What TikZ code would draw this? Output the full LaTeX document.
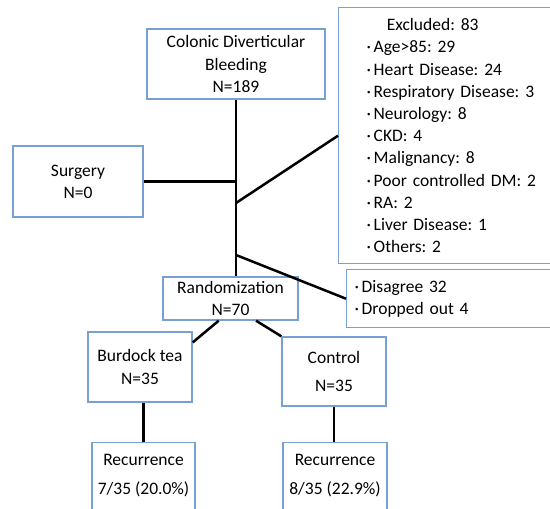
\documentclass[tikz,border=0pt]{standalone}
\usepackage{fontspec}
\setmainfont{Carlito}
\usepackage{tikz}
\frenchspacing
\definecolor{boxblue}{RGB}{120,160,210}
\tikzstyle{basic} = [rectangle, draw=boxblue, line width=1.4pt, fill=white, align=center, inner sep=0pt]
\tikzstyle{listbox} = [rectangle, draw=boxblue, line width=1.4pt, fill=white, align=left, anchor=north west, text width=200pt]
\tikzstyle{link} = [draw=black, line width=2.5pt]
\newcommand{\bul}{\makebox[7pt][l]{\textperiodcentered}}

\begin{document}
\begin{tikzpicture}[x=1pt, y=-1pt, font=\fontsize{17.5}{22.2}\selectfont]
    \useasboundingbox (0,0) rectangle (550,509);
    \clip (0,0) rectangle (550,509);

    \node (colonic_bleed) [basic, minimum width=178pt, minimum height=70pt] at (236,64) {Colonic Diverticular\\Bleeding\\N=189};
    \node (surgery) [basic, minimum width=130pt, minimum height=71pt] at (78,181.5) {Surgery\\N=0};
    \node (excluded) [listbox, inner xsep=28pt, minimum height=256pt] at (338,7) {\makebox[132pt][c]{Excluded: 83}\\
      \bul Age>85: 29\\ \bul Heart Disease: 24\\ \bul Respiratory Disease: 3\\ \bul Neurology: 8\\ \bul CKD: 4\\
      \bul Malignancy: 8\\ \bul Poor controlled DM: 2\\ \bul RA: 2\\ \bul Liver Disease: 1\\ \bul Others: 2};
    \node (disagree) [listbox, inner xsep=8pt, minimum height=58pt] at (346,269) {\bul Disagree 32\\ \bul Dropped out 4};
    \node (rand) [basic, minimum width=135pt, minimum height=43pt] at (230.5,298.5) {Randomization\\N=70};
    \node (burdock) [basic, minimum width=104pt, minimum height=70pt] at (140,367) {Burdock tea\\N=35};
    \node (control) [basic, minimum width=104pt, minimum height=69pt] at (334,371.5) {Control\\[5pt]N=35};
    \node (rec_burdock) [basic, anchor=north, minimum width=103pt, minimum height=88pt] at (143.5,442) {Recurrence\\[7pt]7/35 (20.0\%)\\[2pt]\mbox{}};
    \node (rec_control) [basic, anchor=north, minimum width=104pt, minimum height=88pt] at (335,442) {Recurrence\\[7pt]8/35 (22.9\%)\\[2pt]\mbox{}};

    \coordinate (excl_split) at (236,203);
    \coordinate (dis_split) at (236,255);

    \draw[link] (colonic_bleed.south) -- (colonic_bleed.south |- rand.north);
    \draw[link] (surgery.east) -- (surgery.east -| colonic_bleed.south);
    \draw[link] (excl_split) -- (excluded.west);
    \draw[link] (dis_split) -- (disagree.west);
    \draw[link] (rand.242) -- (burdock.25);
    \draw[link] (rand.319) -- (control.north west);
    \draw[link] (rec_burdock.north |- burdock.south) -- (rec_burdock.north);
    \draw[link] (control.south) -- (control.south |- rec_control.north);
\end{tikzpicture}
\end{document}
